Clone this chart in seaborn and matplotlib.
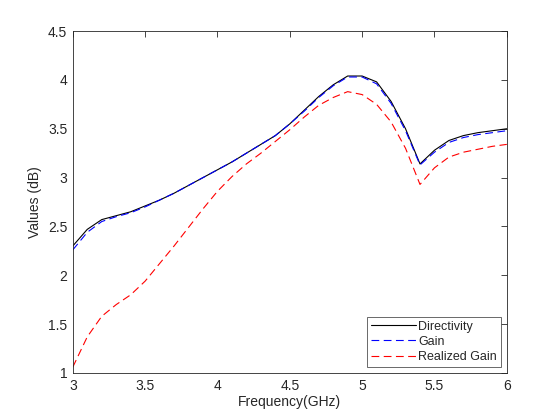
import numpy as np
import pandas as pd
import matplotlib
matplotlib.use("Agg")
import matplotlib.pyplot as plt
import seaborn as sns

freq = [3.0, 3.1, 3.2, 3.3, 3.4, 3.5, 3.6, 3.7, 3.8, 3.9, 4.0,
        4.1, 4.2, 4.3, 4.4, 4.5, 4.6, 4.7, 4.8, 4.9, 5.0,
        5.1, 5.2, 5.3, 5.4, 5.5, 5.6, 5.7, 5.8, 5.9, 6.0]
directivity = [2.30, 2.47, 2.57, 2.61, 2.65, 2.71, 2.77, 2.84, 2.92, 3.00, 3.08,
               3.16, 3.25, 3.34, 3.43, 3.55, 3.69, 3.83, 3.95, 4.04, 4.04,
               3.98, 3.78, 3.50, 3.14, 3.28, 3.38, 3.43, 3.46, 3.48, 3.50]
gain = [2.26, 2.44, 2.55, 2.60, 2.64, 2.70, 2.77, 2.84, 2.92, 3.00, 3.08,
        3.16, 3.25, 3.34, 3.43, 3.55, 3.68, 3.82, 3.94, 4.03, 4.03,
        3.96, 3.76, 3.48, 3.13, 3.26, 3.36, 3.41, 3.44, 3.46, 3.48]
realized_gain = [1.06, 1.37, 1.58, 1.70, 1.80, 1.94, 2.12, 2.30, 2.49, 2.68, 2.86,
                 3.01, 3.14, 3.25, 3.37, 3.49, 3.62, 3.74, 3.82, 3.88, 3.85,
                 3.75, 3.57, 3.30, 2.93, 3.10, 3.21, 3.26, 3.29, 3.32, 3.34]

sns.set_style("white")
plt.rcParams['font.family'] = ['Liberation Sans', 'DejaVu Sans']

fig = plt.figure(figsize=(5.6, 4.2), dpi=100)
ax = fig.add_axes([0.13, 0.112, 0.775, 0.814])

sns.lineplot(x=freq, y=directivity, color='black', lw=0.8, label='Directivity', ax=ax)
sns.lineplot(x=freq, y=gain, color='blue', lw=0.8, label='Gain', ax=ax)
sns.lineplot(x=freq, y=realized_gain, color='red', lw=0.8, label='Realized Gain', ax=ax)
ax.lines[1].set_dashes([7, 4])
ax.lines[2].set_dashes([7, 4])

ax.set_xlim(3, 6)
ax.set_ylim(1, 4.5)
ax.set_xticks([3, 3.5, 4, 4.5, 5, 5.5, 6])
ax.set_xticklabels(['3', '3.5', '4', '4.5', '5', '5.5', '6'])
ax.set_yticks([1, 1.5, 2, 2.5, 3, 3.5, 4, 4.5])
ax.set_yticklabels(['1', '1.5', '2', '2.5', '3', '3.5', '4', '4.5'])
ax.tick_params(direction='in', top=True, right=True, length=4, width=0.6,
               labelsize=10, colors='#262626', pad=4)
for s in ax.spines.values():
    s.set_color('#262626')
    s.set_linewidth(0.6)
ax.set_xlabel('Frequency(GHz)', fontsize=10, color='#262626', labelpad=2)
ax.set_ylabel('Values (dB)', fontsize=10, color='#262626', labelpad=4)

leg = ax.legend(loc='lower right', fontsize=9, frameon=True, fancybox=False,
                handlelength=3.6, handletextpad=0.2, borderpad=0.3, labelspacing=0.25,
                borderaxespad=0.5)
leg.get_frame().set_edgecolor('#262626')
leg.get_frame().set_linewidth(0.6)

fig.savefig('out.png', dpi=100)
